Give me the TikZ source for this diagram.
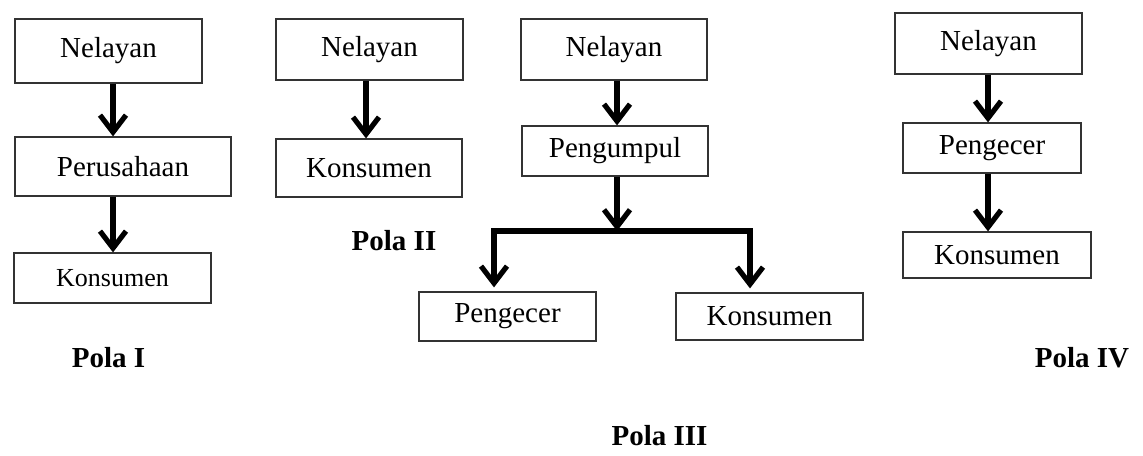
\documentclass[tikz,border=0pt]{standalone}
\usepackage{fontspec}
\setmainfont{Liberation Serif}
\usetikzlibrary{arrows.meta, positioning}
\definecolor{boxline}{HTML}{333333}

\begin{document}
\begin{tikzpicture}[
  x=0.5pt, y=-0.5pt,
  pbox/.style={rectangle, draw=boxline, line width=0.6pt, inner sep=0pt,
               align=center, font=\fontsize{14.5}{17}\selectfont},
  polalabel/.style={font=\fontsize{14.5}{17}\selectfont\bfseries},
  arw/.style={-{Straight Barb[length=8.5pt, width=13pt, line width=2.6pt]},
              line width=3pt, line join=miter}
]
\useasboundingbox (0,0) rectangle (1143,455);

% === Pola I ===
\node[pbox, minimum width=93.5pt, minimum height=32pt] (nel1) at (108.5,51) {Nelayan};
\node[pbox, minimum width=108pt, minimum height=29.5pt] (per1) at (123,166.5) {Perusahaan};
\node[pbox, minimum width=98.5pt, minimum height=25pt,
      font=\fontsize{13}{15}\selectfont] (kon1) at (112.5,278) {Konsumen};
\coordinate (c1) at (113,0);
\draw[arw] (nel1.south -| c1) -- (per1.north -| c1);
\draw[arw] (per1.south -| c1) -- (kon1.north -| c1);
\node[polalabel] (pola1) at (108.5,358) {Pola I};

% === Pola II ===
\node[pbox, minimum width=93.5pt, minimum height=30.5pt] (nel2) at (369.5,49.5) {Nelayan};
\node[pbox, minimum width=93pt, minimum height=29pt] (kon2) at (369,168) {Konsumen};
\coordinate (c2) at (366,0);
\draw[arw] (nel2.south -| c2) -- (kon2.north -| c2);
\node[polalabel] (pola2) at (394,241) {Pola II};

% === Pola III ===
\node[pbox, minimum width=93pt, minimum height=30.5pt] (nel3) at (614,49.5) {Nelayan};
\node[pbox, minimum width=93pt, minimum height=25pt] (pgp3) at (615,151) {Pengumpul};
\node[pbox, minimum width=88.5pt, minimum height=24.5pt] (pgc3) at (507.5,316.5) {Pengecer};
\node[pbox, minimum width=93.5pt, minimum height=23.5pt] (kon3) at (769.5,316.5) {Konsumen};
\coordinate (c3) at (617,0);
\coordinate (split) at (617,231);
\coordinate (barL) at (494,231);
\coordinate (barR) at (750,231);
\draw[arw] (nel3.south -| c3) -- (pgp3.north -| c3);
\draw[arw] (pgp3.south -| c3) -- (split);
\draw[arw] (split) -- (barL) -- ([yshift=2pt]pgc3.north -| barL);
\draw[arw] (split) -- (barR) -- ([yshift=2pt]kon3.north -| barR);
\node[polalabel] (pola3) at (659.5,436) {Pola III};

% === Pola IV ===
\node[pbox, minimum width=93.5pt, minimum height=30.5pt] (nel4) at (988.5,43.5) {Nelayan};
\node[pbox, minimum width=89pt, minimum height=25pt] (pgc4) at (992,148) {Pengecer};
\node[pbox, minimum width=94pt, minimum height=23pt] (kon4) at (997,255) {Konsumen};
\coordinate (c4) at (988,0);
\draw[arw] (nel4.south -| c4) -- (pgc4.north -| c4);
\draw[arw] (pgc4.south -| c4) -- (kon4.north -| c4);
\node[polalabel] (pola4) at (1082,358) {Pola IV};

\end{tikzpicture}
\end{document}
